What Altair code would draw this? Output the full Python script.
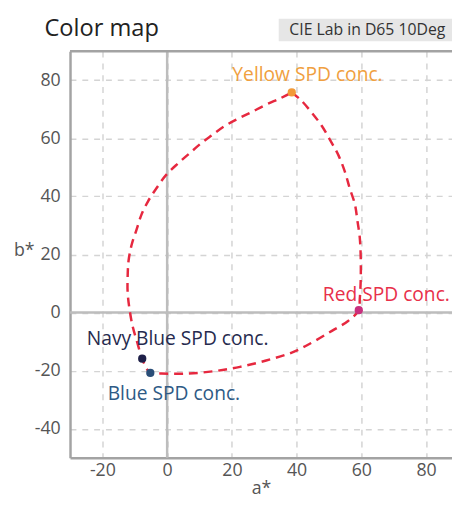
import altair as alt
import pandas as pd

# Points
names = ["Yellow SPD conc.", "Red SPD conc.", "Navy Blue SPD conc.", "Blue SPD conc."]
pt_a = [38.5, 59.2, -7.7, -5.2]
pt_b = [75.8, 0.8, -15.9, -20.8]
pt_colors = ["#F29A38", "#C8307E", "#1E2048", "#2A4E78"]
label_colors = ["#F0A040", "#E8304A", "#262A4E", "#2E5A85"]

# Dashed color loop (yellow -> red -> blue -> navy -> yellow)
curve_a = [38.5, 41.2, 44.7, 47.7, 50.4, 52.9, 54.9, 56.4, 58.0, 58.8, 59.5, 59.8, 59.8, 59.5, 59.2,
           55.9, 50.9, 44.8, 38.7, 30.6, 22.5, 14.4, 6.3, -1.8, -5.2,
           -7.7, -9.3, -10.6, -11.6, -12.2, -12.2, -11.9, -10.9, -9.4, -7.9, -5.9, -3.3, -0.3, 3.3,
           6.8, 10.3, 13.9, 17.9, 22.0, 26.0, 30.6, 35.2, 38.5]
curve_b = [75.8, 73.3, 68.8, 64.4, 59.3, 54.2, 48.5, 42.8, 37.3, 31.5, 25.9, 19.1, 11.2, 4.4, 0.8,
           -2.9, -6.3, -10.3, -13.7, -16.5, -18.7, -20.2, -21.0, -21.0, -20.8,
           -15.9, -10.0, -5.0, 1.0, 7.0, 12.3, 18.0, 23.6, 28.7, 33.8, 38.3, 42.8, 47.4, 51.3,
           54.7, 58.1, 61.1, 64.3, 66.8, 69.0, 71.6, 73.9, 75.8]

x_ticks = [-20, 0, 20, 40, 60, 80]
y_ticks = [-40, -20, 0, 20, 40, 60, 80]
x_dom = [-30, 88]
y_dom = [-50, 90]

FONT = "Open Sans"
W, H = 388, 413

pts = pd.DataFrame({"name": names, "a": pt_a, "b": pt_b, "color": pt_colors, "lcolor": label_colors})
curve = pd.DataFrame({"a": curve_a, "b": curve_b, "order": list(range(len(curve_a)))})

xs = alt.Scale(domain=x_dom, nice=False, zero=False)
ys = alt.Scale(domain=y_dom, nice=False, zero=False)

grid_axis_x = alt.Axis(values=x_ticks, grid=True, gridDash=[6, 6], gridColor="#D4D4D4", gridWidth=1.5,
                       ticks=False, domainColor="#A3A3A3", domainWidth=2.5, labelFont=FONT,
                       labelFontSize=18, labelColor="#555555", labelPadding=4, title="a*",
                       labelExpr="datum.value + ''",
                       titleFont=FONT, titleFontSize=18, titleFontWeight="normal", titleColor="#555555",
                       titlePadding=0)
grid_axis_y = alt.Axis(values=y_ticks, grid=True, gridDash=[6, 6], gridColor="#D4D4D4", gridWidth=1.5,
                       ticks=False, domainColor="#A3A3A3", domainWidth=2.5, labelFont=FONT,
                       labelFontSize=18, labelColor="#555555", labelPadding=10, title="b*",
                       labelExpr="datum.value + ''",
                       titleFont=FONT, titleFontSize=18, titleFontWeight="normal", titleColor="#555555",
                       titleAngle=0, titleX=-47, titleY=203, titleAlign="center", titleBaseline="middle")

base = alt.Chart(curve).mark_line(strokeDash=[9, 6], strokeWidth=2.5, color="#E6283F",
                                   interpolate="catmull-rom").encode(
    x=alt.X("a:Q", scale=xs, axis=grid_axis_x),
    y=alt.Y("b:Q", scale=ys, axis=grid_axis_y),
    order="order:Q",
)

zero_x = alt.Chart(pd.DataFrame({"v": [0]})).mark_rule(color="#BDBDBD", strokeWidth=2.5).encode(
    x=alt.X("v:Q", scale=xs))
zero_y = alt.Chart(pd.DataFrame({"v": [0]})).mark_rule(color="#BDBDBD", strokeWidth=2.5).encode(
    y=alt.Y("v:Q", scale=ys))
top_border = alt.Chart(pd.DataFrame({"v": [y_dom[1]], "x1": [x_dom[0]], "x2": [x_dom[1]]})).mark_rule(
    color="#A3A3A3", strokeWidth=2.5).encode(
    y=alt.Y("v:Q", scale=ys), x=alt.X("x1:Q", scale=xs), x2="x2:Q")

points = alt.Chart(pts).mark_circle(size=70, opacity=1).encode(
    x=alt.X("a:Q", scale=xs), y=alt.Y("b:Q", scale=ys),
    color=alt.Color("color:N", scale=None))

label_offsets = {
    "Yellow SPD conc.": (16, -12),
    "Red SPD conc.": (28, -9),
    "Navy Blue SPD conc.": (36, -14),
    "Blue SPD conc.": (24, 27),
}
labels = []
for n, (dx, dy) in label_offsets.items():
    labels.append(
        alt.Chart(pts).transform_filter(alt.datum.name == n).mark_text(
            font=FONT, fontSize=19.5, dx=dx, dy=dy, align="center", baseline="alphabetic").encode(
            x=alt.X("a:Q", scale=xs), y=alt.Y("b:Q", scale=ys), text="name:N",
            color=alt.Color("lcolor:N", scale=None))
    )

title_txt = alt.Chart(pd.DataFrame({"t": ["Color map"]})).mark_text(
    font=FONT, fontSize=24, align="left", baseline="alphabetic", color="#222222").encode(
    x=alt.value(-26), y=alt.value(-15), text="t:N")
badge_rect = alt.Chart(pd.DataFrame({"t": ["CIE Lab in D65 10Deg"]})).mark_rect(color="#E6E6E6").encode(
    x=alt.value(212), x2=alt.value(W + 5), y=alt.value(-33), y2=alt.value(-10))
badge_txt = alt.Chart(pd.DataFrame({"t": ["CIE Lab in D65 10Deg"]})).mark_text(
    font=FONT, fontSize=16, align="center", baseline="alphabetic", color="#333333").encode(
    x=alt.value(302), y=alt.value(-16), text="t:N")

chart = alt.layer(zero_x, zero_y, top_border, base, points, *labels, title_txt, badge_rect, badge_txt).properties(
    width=W, height=H,
    autosize=alt.AutoSizeParams(type="none"),
    padding={"left": 63, "top": 40, "right": 0, "bottom": 36},
).configure_view(stroke=None)

chart.save("out.html", embed_options={"renderer": "svg", "actions": False})
